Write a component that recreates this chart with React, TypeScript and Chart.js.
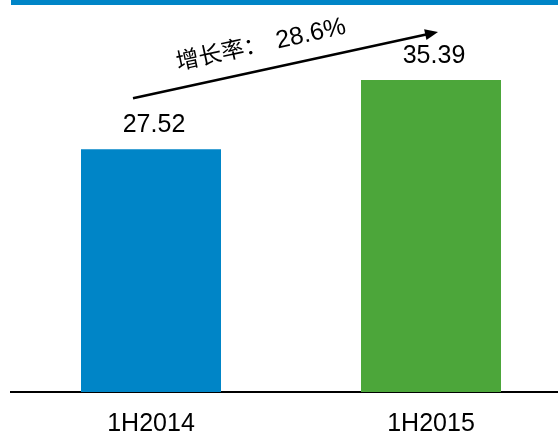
import React, { useEffect, useRef } from "react";
import { Chart, registerables } from "chart.js";

Chart.register(...registerables);

const categories = ["1H2014", "1H2015"];
const values = [27.52, 35.39];
const valueLabels = ["27.52", "35.39"];
const barColors = ["#0085C7", "#4CA63A"];
const growthPrefix = "增长率：";
const growthValue = "28.6%";
const yMax = 44;

const LATIN = "'Liberation Sans', Arial, sans-serif";
const CJK = "'Noto Sans CJK SC', sans-serif";

export default function App() {
  const ref = useRef<HTMLCanvasElement>(null);

  useEffect(() => {
    const canvas = ref.current;
    if (!canvas) return;

    const annot = {
      id: "annot",
      afterDatasetsDraw(chart: any) {
        const ctx: CanvasRenderingContext2D = chart.ctx;
        const bars: any[] = chart.getDatasetMeta(0).data;
        ctx.save();
        ctx.fillStyle = "#000";
        ctx.strokeStyle = "#000";
        ctx.font = `25px ${LATIN}`;
        ctx.textAlign = "center";
        ctx.textBaseline = "alphabetic";
        bars.forEach((b, i) => ctx.fillText(valueLabels[i], b.x + 3, b.y - 17));

        // growth arrow
        const sx = bars[0].x - 18;
        const sy = bars[0].y - 51;
        const ex = bars[1].x + 7;
        const ey = bars[1].y - 48;
        const ang = Math.atan2(ey - sy, ex - sx);
        const len = Math.hypot(ex - sx, ey - sy);
        ctx.translate(sx, sy);
        ctx.rotate(ang);
        ctx.lineWidth = 2.5;
        ctx.beginPath();
        ctx.moveTo(0, 0);
        ctx.lineTo(len - 11, 0);
        ctx.stroke();
        ctx.beginPath();
        ctx.moveTo(len, 0);
        ctx.lineTo(len - 13, -5.5);
        ctx.lineTo(len - 13, 5.5);
        ctx.closePath();
        ctx.fill();

        ctx.textAlign = "left";
        ctx.font = `23px ${CJK}`;
        ctx.fillText(growthPrefix, 50, -18);
        const w = ctx.measureText(growthPrefix).width;
        ctx.font = `25px ${LATIN}`;
        ctx.fillText(growthValue, 50 + w + 10, -18);
        ctx.restore();
      },
    };

    const chart = new Chart(canvas, {
      type: "bar",
      data: {
        labels: categories,
        datasets: [
          {
            data: values,
            backgroundColor: barColors,
            borderWidth: 0,
            categoryPercentage: 1,
            barPercentage: 0.5,
          },
        ],
      },
      options: {
        responsive: false,
        animation: false,
        devicePixelRatio: 1,
        layout: { padding: { left: 11, right: 0, top: 4, bottom: 1 } },
        plugins: {
          legend: { display: false },
          tooltip: { enabled: false },
        },
        scales: {
          x: {
            grid: { display: false, drawTicks: false },
            border: { display: true, color: "#000", width: 2 },
            ticks: {
              color: "#000",
              padding: 17,
              font: { family: LATIN, size: 25 },
            },
          },
          y: {
            display: false,
            min: 0,
            max: yMax,
          },
        },
      },
      plugins: [annot],
    });

    return () => chart.destroy();
  }, []);

  return (
    <div
      style={{
        position: "absolute",
        left: 0,
        top: 0,
        width: 558,
        height: 440,
        overflow: "hidden",
        background: "#fff",
      }}
    >
      <div
        style={{
          position: "absolute",
          left: 11,
          top: 0,
          width: 547,
          height: 5,
          background: "#0085C7",
          zIndex: 1,
        }}
      />
      <canvas
        ref={ref}
        width={571}
        height={457}
        style={{ display: "block", width: 571, height: 457 }}
      />
    </div>
  );
}
